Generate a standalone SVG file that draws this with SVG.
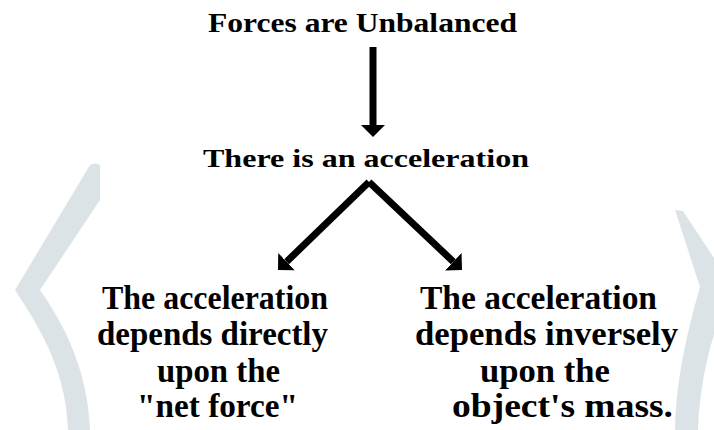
<svg xmlns="http://www.w3.org/2000/svg" width="714" height="430" viewBox="0 0 714 430">
<style>
text{font-family:"Liberation Serif","Times New Roman",serif;font-weight:bold;fill:#000;}
.t1{font-size:28px;}
.t2{font-size:26px;}
.t3{font-size:33px;}
.bg{fill:#dce3e7;}
.conn{stroke:#000;stroke-width:7;fill:none;stroke-linejoin:miter;}
</style>
<defs>
<marker id="head" viewBox="0 0 12 24" refX="0" refY="12" markerWidth="12" markerHeight="24" markerUnits="userSpaceOnUse" orient="auto">
<path d="M0,0 L12,12 L0,24 Z" fill="#000"/>
</marker>
</defs>
<rect width="714" height="430" fill="#fff"/>
<path class="bg" d="M90,165 Q95,162 100,165 L100,200 L40,290 C68,330 88,375 90,430 L68,430 C66,375 45,335 15,290 Z"/>
<path class="bg" d="M675,210 L683,211 L714,258 L714,335 C706,360 699,395 698,430 L675,430 C676,390 682,350 700,287 Z"/>
<g id="n1"><text class="t1" x="208" y="32" textLength="309" lengthAdjust="spacingAndGlyphs">Forces are Unbalanced</text></g>
<g id="n2"><text class="t2" x="203" y="167" textLength="326" lengthAdjust="spacingAndGlyphs">There is an acceleration</text></g>
<g id="n3">
<text class="t3" x="102" y="309" textLength="226" lengthAdjust="spacingAndGlyphs">The acceleration</text>
<text class="t3" x="97" y="345" textLength="231" lengthAdjust="spacingAndGlyphs">depends directly</text>
<text class="t3" x="157" y="382" textLength="123" lengthAdjust="spacingAndGlyphs">upon the</text>
<text class="t3" x="137" y="417" textLength="161" lengthAdjust="spacingAndGlyphs">"net force"</text>
</g>
<g id="n4">
<text class="t3" x="420" y="309" textLength="237" lengthAdjust="spacingAndGlyphs">The acceleration</text>
<text class="t3" x="415" y="345" textLength="263" lengthAdjust="spacingAndGlyphs">depends inversely</text>
<text class="t3" x="480" y="382" textLength="130" lengthAdjust="spacingAndGlyphs">upon the</text>
<text class="t3" x="452" y="417" textLength="221" lengthAdjust="spacingAndGlyphs">object's mass.</text>
</g>
<g id="connectors">
<path class="conn" d="M373,47 L373,125" marker-end="url(#head)"/>
<path class="conn" d="M369,182 L286.6,261.7" marker-end="url(#head)"/>
<path class="conn" d="M369,182 L453.3,261.7" marker-end="url(#head)"/>
</g>
</svg>
